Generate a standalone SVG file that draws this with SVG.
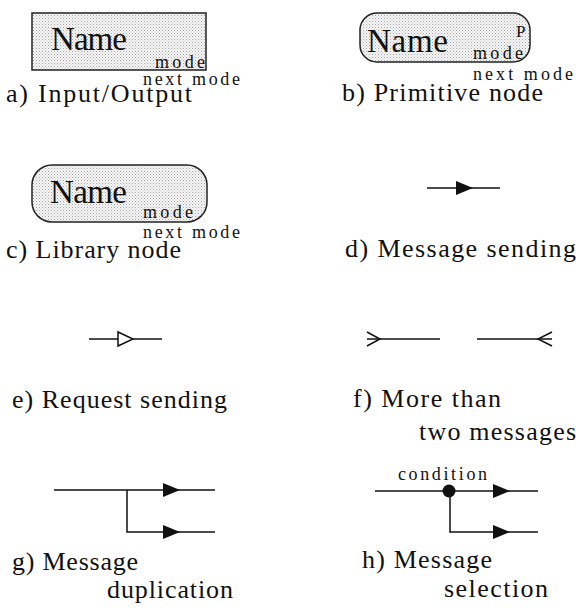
<svg xmlns="http://www.w3.org/2000/svg" width="576" height="610" viewBox="0 0 576 610" font-family="'Liberation Serif', 'Times New Roman', 'DejaVu Serif', serif">
<style>
text{font-family:'Liberation Serif','Times New Roman','DejaVu Serif',serif;fill:#111}
.nm{font-size:33px}
.md{font-size:18px}
.lb{font-size:26px}
.ln{stroke:#111;stroke-width:1.5;fill:none}
.box{fill:url(#dots);stroke:#222;stroke-width:1.5}
</style>
<defs>
<pattern id="dots" width="3" height="3" patternUnits="userSpaceOnUse">
<rect width="3" height="3" fill="#f6f6f6"/>
<rect x="0" y="0" width="1" height="1" fill="#a5a5a5"/>
<rect x="1.5" y="1.5" width="1" height="1" fill="#c0c0c0"/>
</pattern>
<marker id="fill" viewBox="0 0 17 14" refX="17" refY="7" markerWidth="17" markerHeight="14" markerUnits="userSpaceOnUse" orient="auto">
<path d="M0,0 L17,7 L0,14 Z" fill="#111"/>
</marker>
</defs>

<g id="node-a">
<rect class="box" x="32" y="13" width="174" height="57"/>
<text class="nm" x="51" y="50" textLength="76">Name</text>
<text class="md" x="155" y="68" textLength="50">mode</text>
<text class="md" x="143" y="85" textLength="97">next mode</text>
<text class="lb" x="6" y="102" textLength="186">a) Input/Output</text>
</g>

<g id="node-b">
<rect class="box" x="360" y="13" width="170" height="49" rx="17"/>
<text class="nm" x="367" y="52" textLength="81">Name</text>
<text x="516" y="37" style="font-size:17px">P</text>
<text class="md" x="473" y="59" textLength="50">mode</text>
<text class="md" x="473" y="80" textLength="100">next mode</text>
<text class="lb" x="342" y="101" textLength="201">b) Primitive node</text>
</g>

<g id="node-c">
<rect class="box" x="32" y="165" width="175" height="57" rx="20"/>
<text class="nm" x="50" y="203" textLength="77">Name</text>
<text class="md" x="143" y="218" textLength="50">mode</text>
<text class="md" x="143" y="238" textLength="97">next mode</text>
<text class="lb" x="6" y="258" textLength="175">c) Library node</text>
</g>

<g id="legend-d">
<text class="lb" x="345" y="257" textLength="231">d) Message sending</text>
</g>
<g id="legend-e">
<text class="lb" x="12" y="408" textLength="215">e) Request sending</text>
</g>
<g id="legend-f">
<text class="lb" x="353" y="407" textLength="148">f) More than</text>
<text class="lb" x="419" y="440" textLength="157">two messages</text>
</g>
<g id="legend-g">
<text class="lb" x="12" y="570" textLength="126">g) Message</text>
<text class="lb" x="107" y="598" textLength="126">duplication</text>
</g>
<g id="legend-h">
<text class="md" x="398" y="480" textLength="89">condition</text>
<text class="lb" x="362" y="568" textLength="130">h) Message</text>
<text class="lb" x="444" y="597" textLength="104">selection</text>
</g>

<g id="connectors">
<!-- d -->
<line class="ln" x1="427" y1="188" x2="473" y2="188" marker-end="url(#fill)"/>
<line class="ln" x1="473" y1="188" x2="500" y2="188"/>
<!-- e -->
<line class="ln" x1="89" y1="339" x2="118" y2="339"/>
<path class="ln" d="M118,332 L133,339 L118,346 Z" fill="#fff"/>
<line class="ln" x1="133" y1="339" x2="162" y2="339"/>
<!-- f -->
<line class="ln" x1="367" y1="339" x2="440" y2="339"/>
<path class="ln" d="M367,332 L380,339 L367,346"/>
<line class="ln" x1="477" y1="339" x2="552" y2="339"/>
<path class="ln" d="M552,332 L538,339 L552,346"/>
<!-- g -->
<line class="ln" x1="54" y1="490" x2="180" y2="490" marker-end="url(#fill)"/>
<line class="ln" x1="180" y1="490" x2="215" y2="490"/>
<path class="ln" d="M127,490 V532 H180" marker-end="url(#fill)"/>
<line class="ln" x1="180" y1="532" x2="215" y2="532"/>
<!-- h -->
<line class="ln" x1="375" y1="491" x2="510" y2="491" marker-end="url(#fill)"/>
<line class="ln" x1="510" y1="491" x2="538" y2="491"/>
<path class="ln" d="M450,491 V532 H510" marker-end="url(#fill)"/>
<line class="ln" x1="510" y1="532" x2="538" y2="532"/>
<circle cx="449" cy="491" r="6.5" fill="#111"/>
</g>
</svg>
